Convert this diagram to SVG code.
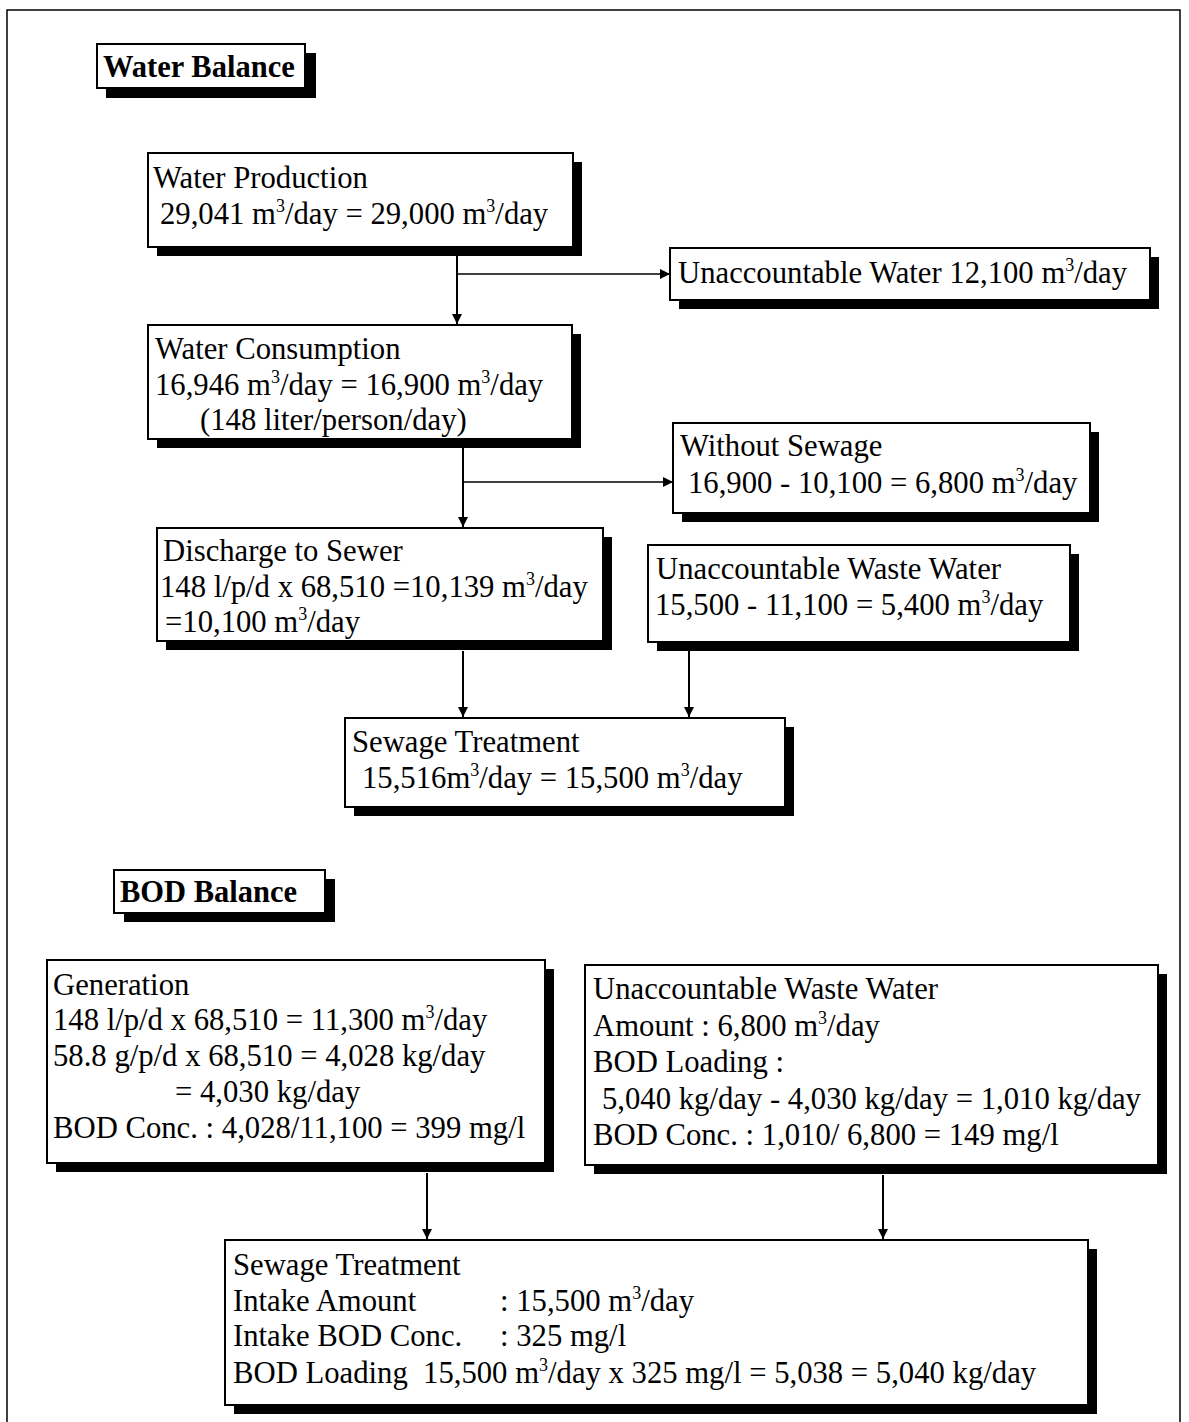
<svg xmlns="http://www.w3.org/2000/svg" width="1189" height="1422" viewBox="0 0 1189 1422">
<defs>
<style>
.t{font-family:"Liberation Serif","Times New Roman",serif;font-size:30.7px;fill:#000}
.h{font-family:"Liberation Serif","Times New Roman",serif;font-size:30.5px;font-weight:bold;fill:#000}
.sh{fill:#000}
.bx{fill:#fff;stroke:#000;stroke-width:2}
.c{stroke:#000;stroke-width:2;fill:none}
.c2{stroke:#000;stroke-width:1.3;fill:none}
</style>
<marker id="ah" viewBox="0 0 10 10" refX="10" refY="5" markerWidth="10" markerHeight="10" markerUnits="userSpaceOnUse" orient="auto">
<path d="M0,0 L10,5 L0,10 z" fill="#000"/>
</marker>
</defs>
<rect width="1189" height="1422" fill="#fff"/>
<g id="frame">
<path d="M7,1422 V10 H1180 V1422" fill="none" stroke="#000" stroke-width="1.5"/>
</g>

<g id="hdr-water">
<rect class="sh" x="106" y="53" width="210" height="45"/>
<rect class="bx" x="97" y="44" width="208" height="44"/>
<text class="h" x="103" y="77">Water Balance</text>
</g>

<g id="connectors">
<line class="c" x1="457" y1="247" x2="457" y2="324" marker-end="url(#ah)"/>
<line class="c2" x1="457" y1="274" x2="670" y2="274" marker-end="url(#ah)"/>
<line class="c" x1="463" y1="448" x2="463" y2="527" marker-end="url(#ah)"/>
<line class="c2" x1="463" y1="482" x2="673" y2="482" marker-end="url(#ah)"/>
<line class="c" x1="463" y1="651" x2="463" y2="717" marker-end="url(#ah)"/>
<line class="c" x1="689" y1="651" x2="689" y2="717" marker-end="url(#ah)"/>
<line class="c" x1="427" y1="1173" x2="427" y2="1239" marker-end="url(#ah)"/>
<line class="c" x1="883" y1="1175" x2="883" y2="1239" marker-end="url(#ah)"/>
</g>

<g id="water-production">
<rect class="sh" x="157" y="162" width="425" height="94"/>
<rect class="bx" x="148" y="153" width="425" height="94"/>
<text class="t" x="153" y="188">Water Production</text>
<text class="t" x="160" y="224">29,041 m<tspan font-size="18" dy="-12">3</tspan><tspan dy="12">/day = 29,000 m</tspan><tspan font-size="18" dy="-12">3</tspan><tspan dy="12">/day</tspan></text>
</g>

<g id="unaccountable-water">
<rect class="sh" x="679" y="257" width="480" height="52"/>
<rect class="bx" x="670" y="248" width="480" height="52"/>
<text class="t" x="678" y="283">Unaccountable Water 12,100 m<tspan font-size="18" dy="-12">3</tspan><tspan dy="12">/day</tspan></text>
</g>

<g id="water-consumption">
<rect class="sh" x="157" y="334" width="424" height="114"/>
<rect class="bx" x="148" y="325" width="424" height="114"/>
<text class="t" x="155" y="359">Water Consumption</text>
<text class="t" x="155" y="395">16,946 m<tspan font-size="18" dy="-12">3</tspan><tspan dy="12">/day = 16,900 m</tspan><tspan font-size="18" dy="-12">3</tspan><tspan dy="12">/day</tspan></text>
<text class="t" x="200" y="430">(148 liter/person/day)</text>
</g>

<g id="without-sewage">
<rect class="sh" x="682" y="432" width="417" height="90"/>
<rect class="bx" x="673" y="423" width="417" height="90"/>
<text class="t" x="680" y="456">Without Sewage</text>
<text class="t" x="688" y="493">16,900 - 10,100 = 6,800 m<tspan font-size="18" dy="-12">3</tspan><tspan dy="12">/day</tspan></text>
</g>

<g id="discharge-to-sewer">
<rect class="sh" x="166" y="537" width="446" height="113"/>
<rect class="bx" x="157" y="528" width="446" height="113"/>
<text class="t" x="163" y="561">Discharge to Sewer</text>
<text class="t" x="160" y="597">148 l/p/d x 68,510 =10,139 m<tspan font-size="18" dy="-12">3</tspan><tspan dy="12">/day</tspan></text>
<text class="t" x="165" y="632">=10,100 m<tspan font-size="18" dy="-12">3</tspan><tspan dy="12">/day</tspan></text>
</g>

<g id="unaccountable-waste-water">
<rect class="sh" x="657" y="554" width="422" height="97"/>
<rect class="bx" x="648" y="545" width="422" height="97"/>
<text class="t" x="656" y="579">Unaccountable Waste Water</text>
<text class="t" x="655" y="615">15,500 - 11,100 = 5,400 m<tspan font-size="18" dy="-12">3</tspan><tspan dy="12">/day</tspan></text>
</g>

<g id="sewage-treatment">
<rect class="sh" x="354" y="727" width="440" height="89"/>
<rect class="bx" x="345" y="718" width="440" height="89"/>
<text class="t" x="352" y="752">Sewage Treatment</text>
<text class="t" x="362" y="788">15,516m<tspan font-size="18" dy="-12">3</tspan><tspan dy="12">/day = 15,500 m</tspan><tspan font-size="18" dy="-12">3</tspan><tspan dy="12">/day</tspan></text>
</g>

<g id="hdr-bod">
<rect class="sh" x="124" y="879" width="211" height="43"/>
<rect class="bx" x="114" y="870" width="211" height="43"/>
<text class="h" x="120" y="902">BOD Balance</text>
</g>

<g id="generation">
<rect class="sh" x="56" y="969" width="498" height="203"/>
<rect class="bx" x="47" y="960" width="498" height="203"/>
<text class="t" x="53" y="995">Generation</text>
<text class="t" x="53" y="1030">148 l/p/d x 68,510 = 11,300 m<tspan font-size="18" dy="-12">3</tspan><tspan dy="12">/day</tspan></text>
<text class="t" x="53" y="1066">58.8 g/p/d x 68,510 = 4,028 kg/day</text>
<text class="t" x="175" y="1102">= 4,030 kg/day</text>
<text class="t" x="53" y="1138">BOD Conc. : 4,028/11,100 = 399 mg/l</text>
</g>

<g id="unaccountable-waste-water-bod">
<rect class="sh" x="594" y="974" width="573" height="200"/>
<rect class="bx" x="585" y="965" width="573" height="200"/>
<text class="t" x="593" y="999">Unaccountable Waste Water</text>
<text class="t" x="593" y="1036">Amount : 6,800 m<tspan font-size="18" dy="-12">3</tspan><tspan dy="12">/day</tspan></text>
<text class="t" x="593" y="1072">BOD Loading :</text>
<text class="t" x="602" y="1109">5,040 kg/day - 4,030 kg/day = 1,010 kg/day</text>
<text class="t" x="593" y="1145">BOD Conc. : 1,010/ 6,800 = 149 mg/l</text>
</g>

<g id="sewage-treatment-bod">
<rect class="sh" x="234" y="1249" width="863" height="165"/>
<rect class="bx" x="225" y="1240" width="863" height="165"/>
<text class="t" x="233" y="1275">Sewage Treatment</text>
<text class="t" x="233" y="1311">Intake Amount</text>
<text class="t" x="500" y="1311">: 15,500 m<tspan font-size="18" dy="-12">3</tspan><tspan dy="12">/day</tspan></text>
<text class="t" x="233" y="1346">Intake BOD Conc.</text>
<text class="t" x="500" y="1346">: 325 mg/l</text>
<text class="t" x="233" y="1383" xml:space="preserve">BOD Loading  15,500 m<tspan font-size="18" dy="-12">3</tspan><tspan dy="12">/day x 325 mg/l = 5,038 = 5,040 kg/day</tspan></text>
</g>
</svg>
